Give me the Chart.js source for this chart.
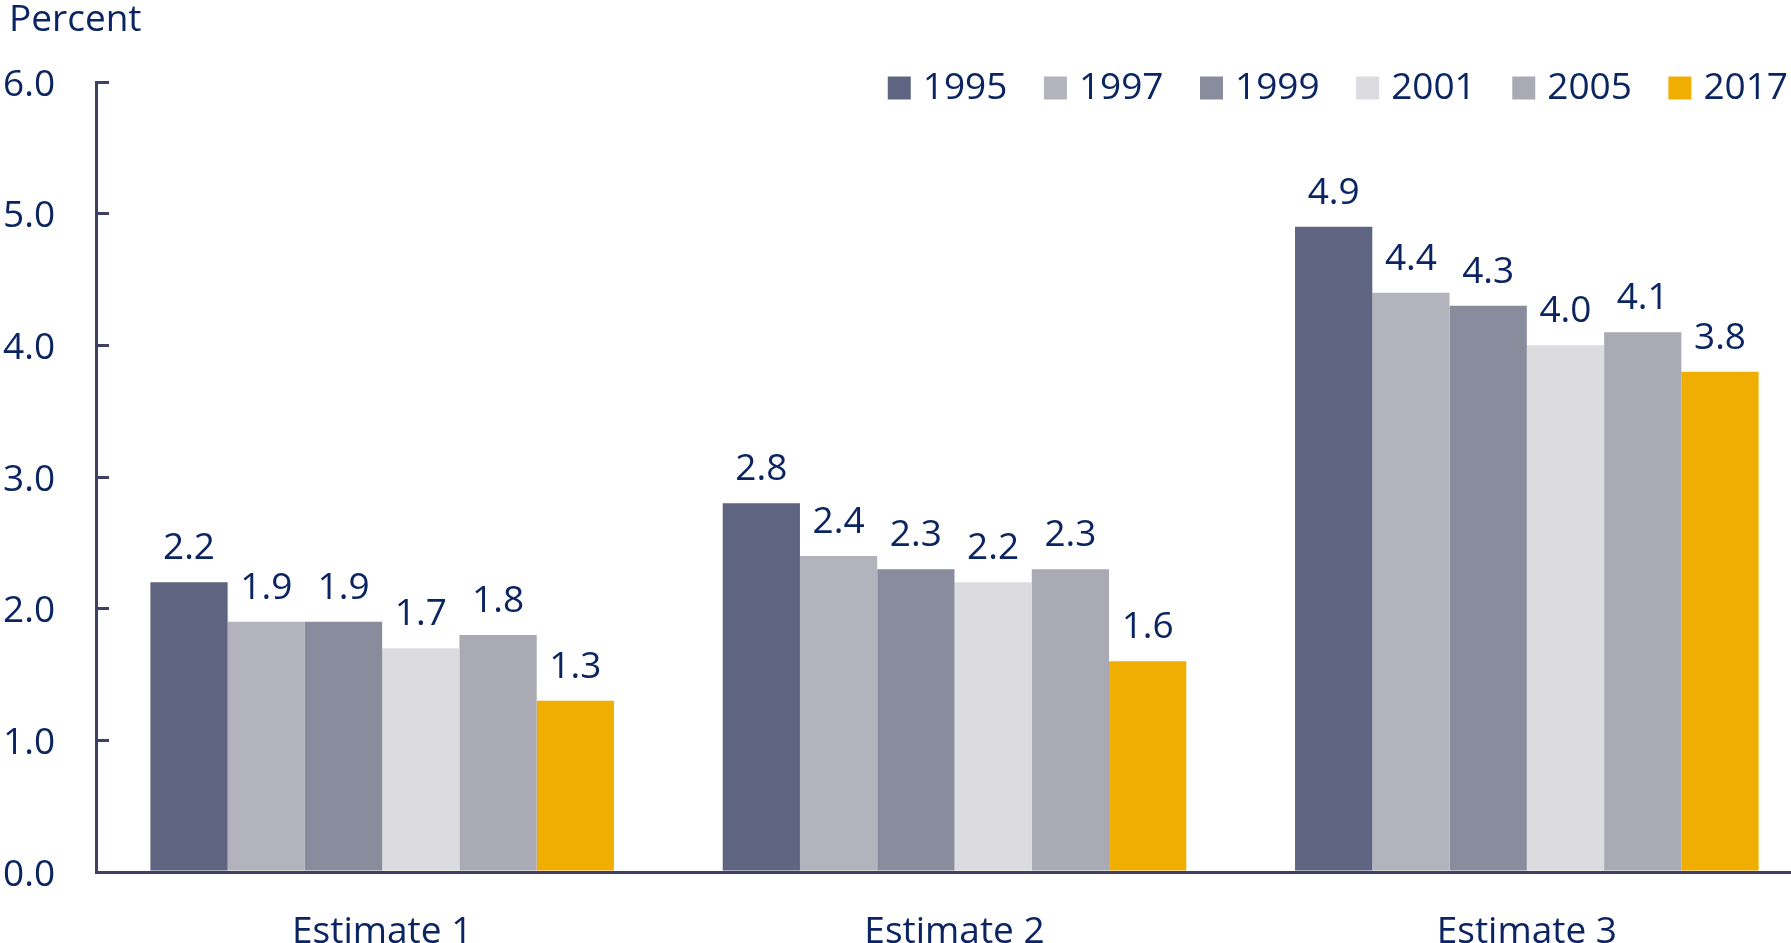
<!DOCTYPE html>
<html>
<head>
<meta charset="utf-8">
<script src="https://cdn.jsdelivr.net/npm/chart.js@4.4.1/dist/chart.umd.min.js"></script>
<style>
  html, body { margin: 0; padding: 0; background: #ffffff; }
  #wrap { width: 1791px; height: 943px; }
</style>
</head>
<body>
<div id="wrap"><canvas id="myChart" width="1791" height="943"></canvas></div>
<script>
// Données
const categories = ['Estimate 1', 'Estimate 2', 'Estimate 3'];
const annees = ['1995', '1997', '1999', '2001', '2005', '2017'];
const v1995 = [2.2, 2.8, 4.9];
const v1997 = [1.9, 2.4, 4.4];
const v1999 = [1.9, 2.3, 4.3];
const v2001 = [1.7, 2.2, 4.0];
const v2005 = [1.8, 2.3, 4.1];
const v2017 = [1.3, 1.6, 3.8];
const yTicks = [0, 1, 2, 3, 4, 5, 6];

const couleurs = ['#5f6580', '#b3b3bd', '#898c9d', '#dcdbe0', '#aaaab5', '#f0ae00'];
const series = [v1995, v1997, v1999, v2001, v2005, v2017];
const texte = '#0b2462';
const axe = '#404065';
const police = { family: '"Open Sans", sans-serif', size: 37 };

// Étiquettes de valeur au-dessus des barres
const valeurs = {
  id: 'valeurs',
  afterDatasetsDraw(chart) {
    const ctx = chart.ctx;
    ctx.save();
    ctx.font = '37px "Open Sans", sans-serif';
    ctx.fillStyle = texte;
    ctx.textAlign = 'center';
    ctx.textBaseline = 'alphabetic';
    chart.data.datasets.forEach((ds, i) => {
      chart.getDatasetMeta(i).data.forEach((bar, j) => {
        ctx.fillText(ds.data[j].toFixed(1), bar.x, bar.y - 23);
      });
    });
    ctx.restore();
  }
};

// La légende chevauche le haut de la zone de tracé, l'axe x déborde à droite
const legendeFit = {
  id: 'legendeFit',
  beforeInit(chart) {
    const fit = chart.legend.fit;
    chart.legend.fit = function () {
      fit.call(this);
      this.height = 43;
    };
  },
  afterLayout(chart) {
    const lg = chart.legend;
    lg.top -= 12.5;
    lg.bottom = lg.top + 120;
    lg.height = 120;
    lg.left += 18; lg.right += 18;
    if (chart.titleBlock) {
      chart.titleBlock.left += 6;
    }
    const x = chart.scales.x;
    x.right = chart.width + 22;
    x.width = x.right - x.left;
    x.configure();
  }
};

const datasets = annees.map((a, i) => ({
  label: a,
  data: series[i],
  backgroundColor: couleurs[i],
  borderWidth: 0
}));

new Chart(document.getElementById('myChart').getContext('2d'), {
  type: 'bar',
  data: { labels: categories, datasets: datasets },
  options: {
    responsive: false,
    animation: false,
    devicePixelRatio: 1,
    categoryPercentage: 0.81,
    barPercentage: 1.0,
    layout: { padding: { left: 3, right: -22, top: 0, bottom: 0 } },
    plugins: {
      title: {
        display: true,
        text: 'Percent',
        align: 'start',
        color: texte,
        font: { family: police.family, size: 37, weight: 'normal', lineHeight: 1 },
        padding: { top: 2, bottom: 0 }
      },
      legend: {
        display: true,
        position: 'top',
        align: 'end',
        labels: {
          color: texte,
          font: police,
          usePointStyle: true,
          pointStyle: 'rect',
          boxWidth: 10,
          boxHeight: 23,
          padding: 43
        }
      },
      tooltip: { enabled: false }
    },
    scales: {
      x: {
        grid: { drawOnChartArea: false, drawTicks: false },
        border: { color: axe, width: 3 },
        ticks: { color: texte, font: police, padding: 38 },
        afterFit(s) { s.height = 71; }
      },
      y: {
        min: yTicks[0],
        max: yTicks[yTicks.length - 1],
        afterBuildTicks(s) { s.ticks = yTicks.map(v => ({ value: v })); },
        grid: { drawOnChartArea: false, drawTicks: true, tickLength: -13, lineWidth: 3, color: axe },
        border: { color: axe, width: 3 },
        ticks: {
          color: texte,
          font: police,
          crossAlign: 'far',
          padding: 0,
          labelOffset: 3,
          callback: v => Number(v).toFixed(1)
        },
        afterFit(s) { s.width = 93; }
      }
    }
  },
  plugins: [valeurs, legendeFit]
});
</script>
</body>
</html>
